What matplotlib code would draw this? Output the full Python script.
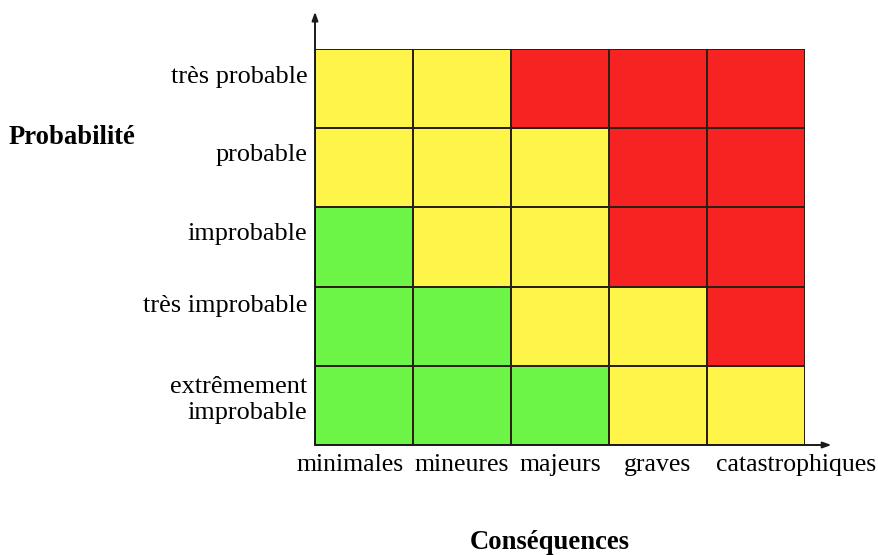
import matplotlib.pyplot as plt
import numpy as np
from matplotlib.colors import ListedColormap

plt.rcParams["font.family"] = ["Liberation Serif", "DejaVu Serif"]

# probability levels, bottom to top
probabilities = ["extrêmement\nimprobable", "très improbable", "improbable",
                 "probable", "très probable"]
consequences = ["minimales", "mineures", "majeurs", "graves", "catastrophiques"]

# risk level per cell (0 = low, 1 = medium, 2 = high), rows bottom to top
risk = [
    [0, 0, 0, 1, 1],
    [0, 0, 1, 1, 2],
    [0, 1, 1, 2, 2],
    [1, 1, 1, 2, 2],
    [1, 1, 2, 2, 2],
]

colors = ["#6cf446", "#fff54a", "#f72323"]

fig = plt.figure(figsize=(8.79, 5.55), dpi=100)
ax = fig.add_axes([315 / 879, 110 / 555, 490 / 879, 396 / 555])

ax.pcolormesh(np.array(risk), cmap=ListedColormap(colors), vmin=-0.5, vmax=2.5,
              edgecolors="#2a2014", linewidth=1.4)
ax.set_xlim(0, 5)
ax.set_ylim(0, 5)
ax.axis("off")

# axis arrows
arrow = dict(arrowstyle="-|>,head_length=0.5,head_width=0.18", color="#1a1a1a", lw=1.4,
             shrinkA=0, shrinkB=0)
ax.annotate("", xy=(0, 5.47), xytext=(0, 0), arrowprops=arrow, annotation_clip=False)
ax.annotate("", xy=(5.27, 0), xytext=(0, 0), arrowprops=arrow, annotation_clip=False)

fs = 18.9
y_offsets = [0.07, 0.25, 0.16, 0.16, 0.15]
for i, label in enumerate(probabilities):
    ax.text(-0.08, i + 0.5 + y_offsets[i], label, ha="right", va="center",
            fontsize=fs, clip_on=False, linespacing=1.25)

x_pos = [0.36, 1.5, 2.5, 3.49, 4.91]
for x, label in zip(x_pos, consequences):
    ax.text(x, -0.25, label, ha="center", va="center", fontsize=18.5, clip_on=False)

ax.text(-3.13, 3.88, "Probabilité", ha="left", va="center", fontsize=fs + 0.3,
        fontweight="bold", clip_on=False)
ax.text(2.4, -1.23, "Conséquences", ha="center", va="center", fontsize=fs + 0.3,
        fontweight="bold", clip_on=False)

fig.savefig("out.png", dpi=100)
